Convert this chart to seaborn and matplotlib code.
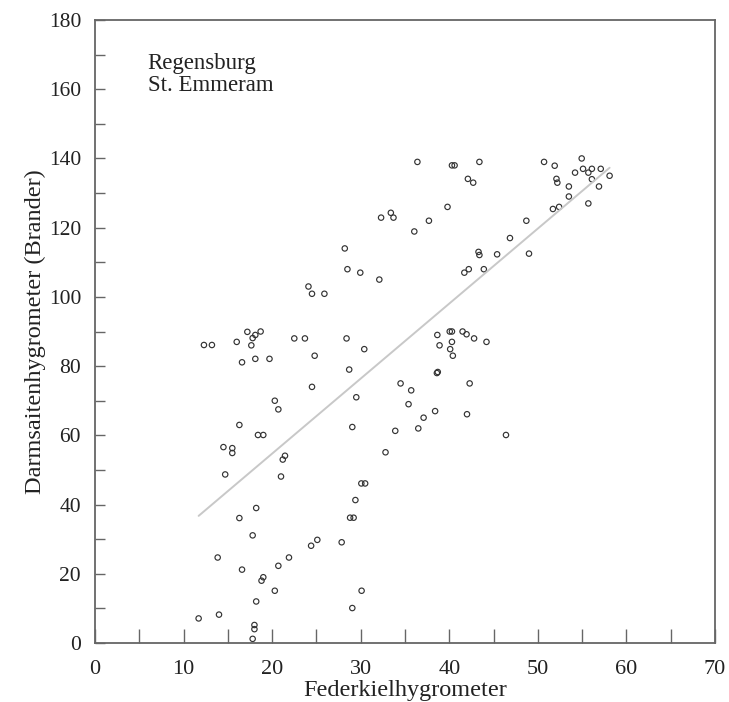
import matplotlib
matplotlib.use("Agg")
import matplotlib.pyplot as plt
import seaborn as sns
import pandas as pd
from matplotlib.ticker import MultipleLocator

# Federkielhygrometer readings
feder = [
    17.2, 18.7, 18.1, 17.8, 12.3, 13.2, 16.0, 17.65, 16.6, 18.1, 19.7, 20.3, 20.7,
    16.3, 18.4, 19.0, 14.5, 15.5, 15.5, 21.45, 21.2, 14.7, 21.0, 18.2, 16.3, 17.8,
    13.85, 21.9, 16.6, 20.7, 19.0, 18.8, 20.3, 18.2, 11.7, 14.0, 18.0, 18.0, 17.8,
    36.4, 40.3, 40.6, 43.4, 42.1, 42.7, 39.8, 32.3, 33.4, 33.7, 37.7, 36.05, 43.3,
    43.4, 41.7, 42.2, 28.2, 28.5, 29.95, 32.1, 24.1, 24.5, 25.9, 22.5, 23.7, 28.4,
    24.8, 30.4, 28.7, 24.5, 29.5, 29.05, 32.8, 30.07, 30.5, 29.4, 28.8, 29.2, 25.1,
    24.4, 27.85, 30.1, 29.05, 38.65, 40.05, 40.3, 41.5, 41.95, 42.8, 38.9, 40.3,
    40.1, 40.4, 38.6, 38.7, 34.5, 35.7, 42.3, 35.4, 38.4, 37.1, 42.0, 33.9, 36.5,
    50.7, 51.9, 54.95, 54.2, 55.1, 55.7, 56.1, 57.1, 58.1, 56.1, 56.9, 52.1, 52.2,
    53.5, 53.5, 51.7, 52.4, 55.7, 48.7, 46.85, 45.4, 49.0, 43.9, 44.2, 46.4,
]
# Darmsaitenhygrometer (Brander) readings
darm = [
    89.9, 90, 89, 88.1, 86.1, 86.1, 87, 86, 81.1, 82.1, 82.1, 70, 67.5,
    63, 60.1, 60.1, 56.6, 56.3, 54.9, 54.1, 53, 48.7, 48.1, 39, 36.1, 31.1,
    24.7, 24.7, 21.2, 22.3, 19, 18, 15.1, 12.0, 7.1, 8.2, 5.2, 4.0, 1.2,
    139, 138, 138, 139, 134.1, 133, 126, 122.9, 124.3, 122.9, 122, 118.9, 113,
    112.1, 107, 108, 114, 108, 107, 105, 103, 100.9, 100.9, 88, 88, 88,
    83, 84.9, 79, 74, 71, 62.4, 55.1, 46.1, 46.1, 41.3, 36.2, 36.2, 29.8,
    28.1, 29.1, 15.1, 10.1, 89, 90, 90, 90, 89.2, 88, 86, 87,
    84.9, 83, 78, 78.3, 75, 73, 75, 69, 67, 65.1, 66.1, 61.3, 62,
    139, 137.9, 140, 135.9, 137, 135.9, 137, 137, 135, 134, 131.9, 134.1, 133,
    131.9, 129, 125.4, 126, 127, 122, 117, 112.3, 112.5, 108, 87, 60.1,
]

x_ticks = [0, 10, 20, 30, 40, 50, 60, 70]
y_ticks = [0, 20, 40, 60, 80, 100, 120, 140, 160, 180]
x_label = "Federkielhygrometer"
y_label = "Darmsaitenhygrometer (Brander)"
station = "Regensburg\nSt. Emmeram"

df = pd.DataFrame({"feder": feder, "darm": darm})

sns.set_style("white")
plt.rcParams["font.family"] = ["Liberation Serif", "DejaVu Serif"]

fig = plt.figure(figsize=(7.29, 7.02), dpi=100)
ax = fig.add_axes([95 / 729, 59 / 702, 620 / 729, 623 / 702])

sns.regplot(data=df, x="feder", y="darm", scatter=False, ci=None, ax=ax,
            line_kws=dict(color="#c8c8c8", lw=1.4))
sns.scatterplot(data=df, x="feder", y="darm", ax=ax, marker="o", s=15,
                facecolor="none", edgecolor="#333333", linewidth=0.85)

ax.set_xlim(0, 70)
ax.set_ylim(0, 180)
ax.set_xticks(x_ticks)
ax.set_yticks(y_ticks)
ax.xaxis.set_minor_locator(MultipleLocator(5))
ax.yaxis.set_minor_locator(MultipleLocator(10))
ax.tick_params(axis="x", which="both", direction="in", length=10, width=1,
               color="#666666", labelsize=16, labelcolor="#222222", pad=12,
               bottom=True, top=False)
ax.tick_params(axis="y", which="both", direction="in", length=7, width=1,
               color="#666666", labelsize=15.5, labelcolor="#222222", pad=10,
               left=True, right=False)
for s in ax.spines.values():
    s.set_color("#666666")
    s.set_linewidth(1.3)

ax.set_xlabel(x_label, fontsize=17.5, color="#222222", labelpad=1)
ax.set_ylabel(y_label, fontsize=17.5, color="#222222", labelpad=2)

ax.text(0.085, 0.947, station, transform=ax.transAxes, fontsize=16.5,
        color="#222222", va="top", ha="left", linespacing=1.05)

fig.savefig("out.png", dpi=100)
